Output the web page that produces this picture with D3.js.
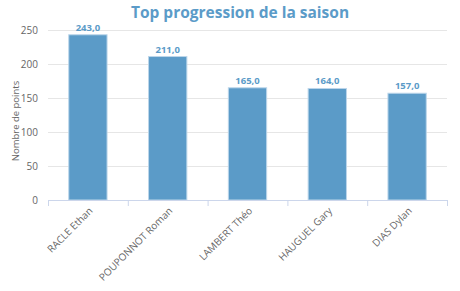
<!DOCTYPE html>
<html>
<head>
<meta charset="utf-8">
<script src="https://cdn.jsdelivr.net/npm/d3@7"></script>
<style>
	body { margin: 0; background: #fff; }
	text { font-family: "Open Sans", sans-serif; }
</style>
</head>
<body>
<div id="chart"></div>
<script>
var players = ["RACLE Ethan", "POUPONNOT Roman", "LAMBERT Théo", "HAUGUEL Gary", "DIAS Dylan"];
var points = [243, 211, 165, 164, 157];
var yTicks = [0, 50, 100, 150, 200, 250];

var width = 460,
	height = 291;
var plotLeft = 48,
	plotRight = 447,
	plotTop = 30,
	plotBottom = 200;

var svg = d3.select("#chart")
	.append("svg")
	.attr("width", width)
	.attr("height", height);

svg.append("text")
	.attr("x", 240)
	.attr("y", 18)
	.attr("text-anchor", "middle")
	.style("font-size", "15.5px")
	.style("font-weight", "bold")
	.style("fill", "#5b9bc8")
	.text("Top progression de la saison");

var x = d3.scaleBand().domain(players).range([plotLeft, plotRight]);
var y = d3.scaleLinear().domain([0, 250]).range([plotBottom, plotTop]);

// grid + y labels
var gridG = svg.append("g");
yTicks.forEach(t => {
	if (t > 0) {
		gridG.append("line")
			.attr("x1", plotLeft).attr("x2", plotRight)
			.attr("y1", y(t) + 0.5).attr("y2", y(t) + 0.5)
			.style("stroke", "#e6e6e6")
			.style("stroke-width", 1);
	}
	gridG.append("text")
		.attr("x", 38)
		.attr("y", y(t))
		.attr("dy", "0.35em")
		.attr("text-anchor", "end")
		.style("font-size", "10px")
		.style("fill", "#666")
		.text(t);
});

svg.append("text")
	.attr("transform", "translate(19," + ((plotTop + plotBottom) / 2 + 6) + ") rotate(-90)")
	.attr("text-anchor", "middle")
	.style("font-size", "9.5px")
	.style("fill", "#666")
	.text("Nombre de points");

// bars
var barW = x.bandwidth() * 0.48;
var barG = svg.append("g");
players.forEach((p, i) => {
	var cx = x(p) + x.bandwidth() / 2;
	barG.append("rect")
		.attr("x", cx - barW / 2)
		.attr("y", y(points[i]))
		.attr("width", barW)
		.attr("height", y(0) - y(points[i]))
		.style("fill", "#5b9bc8")
		.style("stroke", "#bcd6ea")
		.style("stroke-width", 1);
	barG.append("text")
		.attr("x", cx)
		.attr("y", y(points[i]) - 4)
		.attr("text-anchor", "middle")
		.style("font-size", "9.5px")
		.style("font-weight", "bold")
		.style("fill", "#5b9bc8")
		.text(d3.format(".1f")(points[i]).replace(".", ","));
});

// x axis
var axisG = svg.append("g");
axisG.append("line")
	.attr("x1", plotLeft).attr("x2", plotRight)
	.attr("y1", plotBottom + 0.5).attr("y2", plotBottom + 0.5)
	.style("stroke", "#ccd6eb");
var tickXs = players.map(p => x(p)).concat([plotRight]);
tickXs.forEach(tx => {
	axisG.append("line")
		.attr("x1", tx + 0.5).attr("x2", tx + 0.5)
		.attr("y1", plotBottom).attr("y2", plotBottom + 6)
		.style("stroke", "#ccd6eb");
});
players.forEach(p => {
	var cx = x(p) + x.bandwidth() / 2;
	axisG.append("text")
		.attr("transform", "translate(" + (cx + 3) + "," + (plotBottom + 9) + ") rotate(-45)")
		.attr("text-anchor", "end")
		.attr("dy", "0.35em")
		.style("font-size", "10px")
		.style("fill", "#666")
		.text(p);
});
</script>
</body>
</html>
